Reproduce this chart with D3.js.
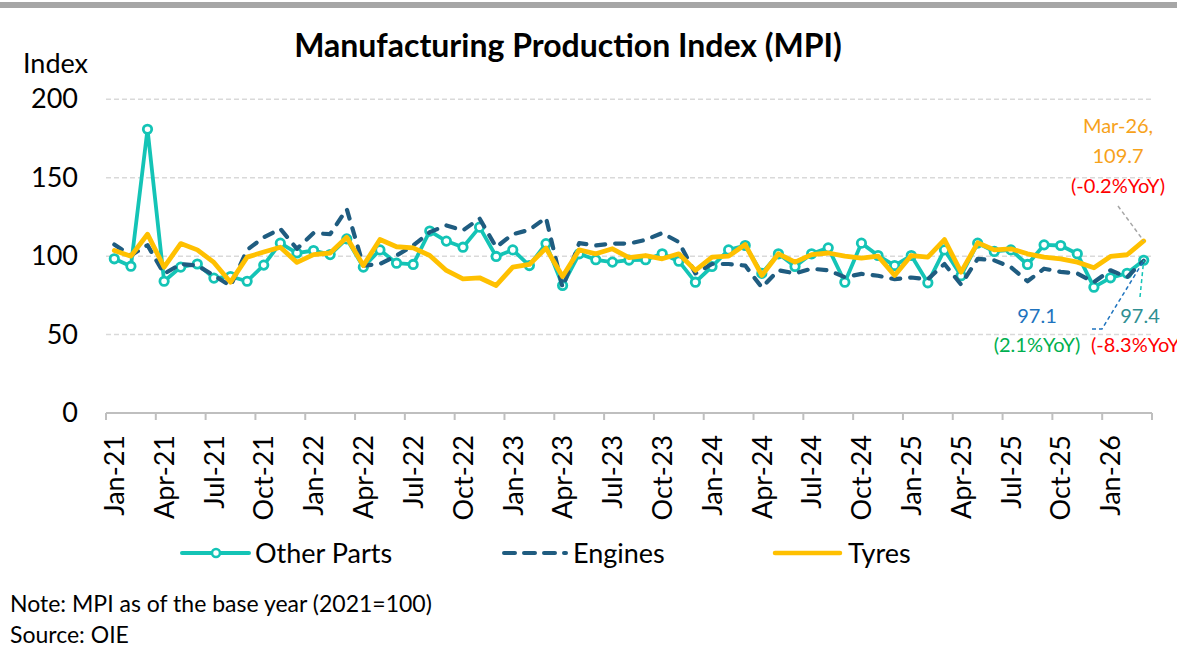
<!DOCTYPE html>
<head>
<meta charset="utf-8">
<style>
body { margin: 0; background: #fff; }
text { font-family: Lato, "Open Sans", sans-serif; fill: #000; }
.grid { stroke: #d9d9d9; stroke-width: 1.5px; stroke-dasharray: 5,3; }
.line { fill: none; stroke-linejoin: round; stroke-linecap: round; }
</style>
<script src="https://cdnjs.cloudflare.com/ajax/libs/d3/7.8.5/d3.min.js"></script>
</head>
<body>
<svg class="chart" width="1177" height="668"></svg>
<script>

// Months, Jan-21 .. Mar-26
var months = [
  "Jan-21","Feb-21","Mar-21","Apr-21","May-21","Jun-21","Jul-21","Aug-21","Sep-21","Oct-21","Nov-21","Dec-21",
  "Jan-22","Feb-22","Mar-22","Apr-22","May-22","Jun-22","Jul-22","Aug-22","Sep-22","Oct-22","Nov-22","Dec-22",
  "Jan-23","Feb-23","Mar-23","Apr-23","May-23","Jun-23","Jul-23","Aug-23","Sep-23","Oct-23","Nov-23","Dec-23",
  "Jan-24","Feb-24","Mar-24","Apr-24","May-24","Jun-24","Jul-24","Aug-24","Sep-24","Oct-24","Nov-24","Dec-24",
  "Jan-25","Feb-25","Mar-25","Apr-25","May-25","Jun-25","Jul-25","Aug-25","Sep-25","Oct-25","Nov-25","Dec-25",
  "Jan-26","Feb-26","Mar-26"
];

var otherParts = [
  98.3, 93.6, 180.9, 84.0, 93.0, 95.0, 86.0, 87.0, 84.0, 94.3, 108.3, 102.0,
  103.6, 101.0, 111.0, 93.0, 104.0, 95.5, 94.7, 116.0, 109.6, 105.7, 118.5, 99.8,
  104.0, 94.0, 108.0, 81.3, 101.5, 97.7, 96.2, 97.5, 97.7, 101.5, 96.8, 83.4,
  93.4, 104.0, 106.8, 89.0, 101.5, 93.4, 101.5, 105.3, 83.4, 108.3, 100.4, 94.0,
  100.4, 83.0, 104.0, 87.5, 108.3, 103.0, 104.0, 94.7, 107.2, 106.8, 101.5, 80.2,
  86.2, 89.1, 97.4
];

var engines = [
  107.4, 100.5, 107.0, 88.7, 95.0, 94.0, 87.7, 81.0, 104.0, 112.0, 117.4, 104.7,
  114.7, 114.0, 130.0, 94.0, 95.0, 100.4, 106.8, 115.3, 119.6, 116.4, 124.0, 105.7,
  114.0, 116.8, 124.5, 80.0, 108.3, 106.8, 108.0, 108.0, 110.4, 114.7, 109.0, 89.0,
  95.0, 95.0, 94.0, 80.0, 91.0, 89.0, 92.0, 91.0, 86.6, 88.7, 87.5, 85.3,
  86.4, 85.3, 95.0, 81.9, 98.3, 97.3, 93.0, 84.0, 92.0, 90.0, 89.0, 83.4,
  91.0, 86.6, 97.1
];

var tyres = [
  103.6, 100.0, 114.0, 93.0, 108.0, 104.0, 96.0, 83.4, 99.4, 102.6, 105.7, 96.0,
  101.0, 102.0, 112.0, 94.0, 110.6, 106.0, 105.3, 100.4, 90.9, 85.5, 86.2, 81.3,
  93.0, 94.7, 105.1, 87.0, 104.0, 101.5, 104.7, 99.0, 100.4, 98.3, 101.5, 90.9,
  99.4, 100.0, 107.4, 87.7, 101.5, 96.2, 101.0, 102.0, 100.0, 98.7, 100.0, 87.7,
  100.4, 99.4, 110.6, 89.8, 108.5, 104.0, 104.7, 101.5, 99.4, 98.3, 96.2, 92.6,
  99.8, 100.9, 109.7
];

var yTicks = [0, 50, 100, 150, 200];
var tickMonths = months.filter(function(m, i) { return i % 3 === 0; });

var svg = d3.select(".chart");

// grey rule at the very top
svg.append("rect").attr("x", 0).attr("y", 2).attr("width", 1177).attr("height", 6).attr("fill", "#a6a6a6");

// Scales
var x = d3.scaleBand().domain(months).range([106, 1152]).padding(0);
var y = d3.scaleLinear().domain([0, 200]).range([413, 99.3]);
var bw = x.bandwidth();
function cx(i) { return x(months[i]) + bw / 2; }

// Title and axis caption
svg.append("text").attr("x", 568).attr("y", 57).attr("text-anchor", "middle")
  .style("font-weight", "bold").style("font-size", "32px")
  .text("Manufacturing Production Index (MPI)");
svg.append("text").attr("x", 23).attr("y", 73).style("font-size", "27px").text("Index");

// Gridlines
svg.append("g").selectAll("line")
  .data(yTicks.filter(function(t) { return t > 0; }))
  .enter().append("line")
  .attr("class", "grid")
  .attr("x1", 106).attr("x2", 1152)
  .attr("y1", function(d) { return y(d); }).attr("y2", function(d) { return y(d); });

// Y axis labels
var yAxis = svg.append("g").attr("transform", "translate(106,0)")
  .call(d3.axisLeft(y).tickValues(yTicks).tickSize(0).tickPadding(28));
yAxis.select(".domain").remove();
yAxis.selectAll("text").style("font-size", "27px").attr("fill", "#000");

// X axis: base line, tick marks between categories, rotated labels
svg.append("line").attr("x1", 106).attr("x2", 1152).attr("y1", 413).attr("y2", 413)
  .attr("stroke", "#bfbfbf").attr("stroke-width", 2);
svg.append("g").selectAll("line")
  .data(tickMonths.map(function(m) { return x(m); }).concat([x.range()[1]]))
  .enter().append("line")
  .attr("x1", function(d) { return d; }).attr("x2", function(d) { return d; })
  .attr("y1", 413).attr("y2", 420)
  .attr("stroke", "#bfbfbf").attr("stroke-width", 2);

var xAxis = svg.append("g").attr("transform", "translate(0,413)")
  .call(d3.axisBottom(x).tickValues(tickMonths).tickSize(0));
xAxis.select(".domain").remove();
xAxis.selectAll("text")
  .style("font-size", "27px").attr("fill", "#000")
  .attr("transform", "rotate(-90)")
  .attr("text-anchor", "end")
  .attr("x", -22).attr("y", 0).attr("dy", "0.36em");

// Lines
var line = d3.line()
  .x(function(d, i) { return cx(i); })
  .y(function(d) { return y(d); });

svg.append("path").datum(otherParts).attr("class", "line")
  .attr("stroke", "#14c4b6").attr("stroke-width", 3.8).attr("d", line);
svg.append("g").selectAll("circle").data(otherParts).enter().append("circle")
  .attr("cx", function(d, i) { return cx(i); })
  .attr("cy", function(d) { return y(d); })
  .attr("r", 4.2).attr("fill", "#fff").attr("stroke", "#14c4b6").attr("stroke-width", 2.8);

svg.append("path").datum(engines).attr("class", "line")
  .attr("stroke", "#1f5c80").attr("stroke-width", 4.2)
  .attr("stroke-dasharray", "9,10").attr("d", line);

svg.append("path").datum(tyres).attr("class", "line")
  .attr("stroke", "#ffc000").attr("stroke-width", 4.8).attr("d", line);

// Annotations for the last month
var last = months.length - 1;
var lx = cx(last);

svg.append("path").attr("fill", "none").attr("stroke", "#a6a6a6").attr("stroke-width", 1.5)
  .attr("stroke-dasharray", "4,3")
  .attr("d", "M1118,206L" + lx + "," + y(tyres[last]));
svg.append("path").attr("fill", "none").attr("stroke", "#1e73be").attr("stroke-width", 1.5)
  .attr("stroke-dasharray", "4,3")
  .attr("d", "M1092,329L1102,329L" + lx + "," + y(engines[last]));
svg.append("path").attr("fill", "none").attr("stroke", "#14c4b6").attr("stroke-width", 1.5)
  .attr("stroke-dasharray", "4,3")
  .attr("d", "M1140,297L" + lx + "," + y(otherParts[last]));

function note(tx, ty, anchor, color, str) {
  svg.append("text").attr("x", tx).attr("y", ty).attr("text-anchor", anchor)
    .style("font-size", "20px").style("fill", color).text(str);
}
note(1118, 133, "middle", "#f7a21b", months[last] + ",");
note(1118, 163, "middle", "#f7a21b", tyres[last].toFixed(1));
note(1118, 193, "middle", "#ff0000", "(-0.2%YoY)");
note(1037, 323, "middle", "#1e73be", engines[last].toFixed(1));
note(1037, 352, "middle", "#00b050", "(2.1%YoY)");
note(1140, 323, "middle", "#2f8f92", otherParts[last].toFixed(1));
note(1091, 352, "start", "#ff0000", "(-8.3%YoY)");

// Legend
var lg = svg.append("g");
lg.append("line").attr("x1", 182).attr("x2", 249).attr("y1", 553).attr("y2", 553)
  .attr("stroke", "#14c4b6").attr("stroke-width", 4).attr("stroke-linecap", "round");
lg.append("circle").attr("cx", 216).attr("cy", 553).attr("r", 4)
  .attr("fill", "#fff").attr("stroke", "#14c4b6").attr("stroke-width", 2.6);
lg.append("text").attr("x", 255).attr("y", 563).style("font-size", "27px").text("Other Parts");

lg.append("line").attr("x1", 504).attr("x2", 566).attr("y1", 553).attr("y2", 553)
  .attr("stroke", "#1f5c80").attr("stroke-width", 4).attr("stroke-linecap", "round")
  .attr("stroke-dasharray", "11,9");
lg.append("text").attr("x", 573).attr("y", 563).style("font-size", "27px").text("Engines");

lg.append("line").attr("x1", 775).attr("x2", 840).attr("y1", 553).attr("y2", 553)
  .attr("stroke", "#ffc000").attr("stroke-width", 4.5).attr("stroke-linecap", "round");
lg.append("text").attr("x", 848).attr("y", 563).style("font-size", "27px").text("Tyres");

// Footnotes
svg.append("text").attr("x", 10).attr("y", 612).style("font-size", "23px")
  .text("Note: MPI as of the base year (2021=100)");
svg.append("text").attr("x", 10).attr("y", 643).style("font-size", "23px")
  .text("Source: OIE");

</script>
</body>
